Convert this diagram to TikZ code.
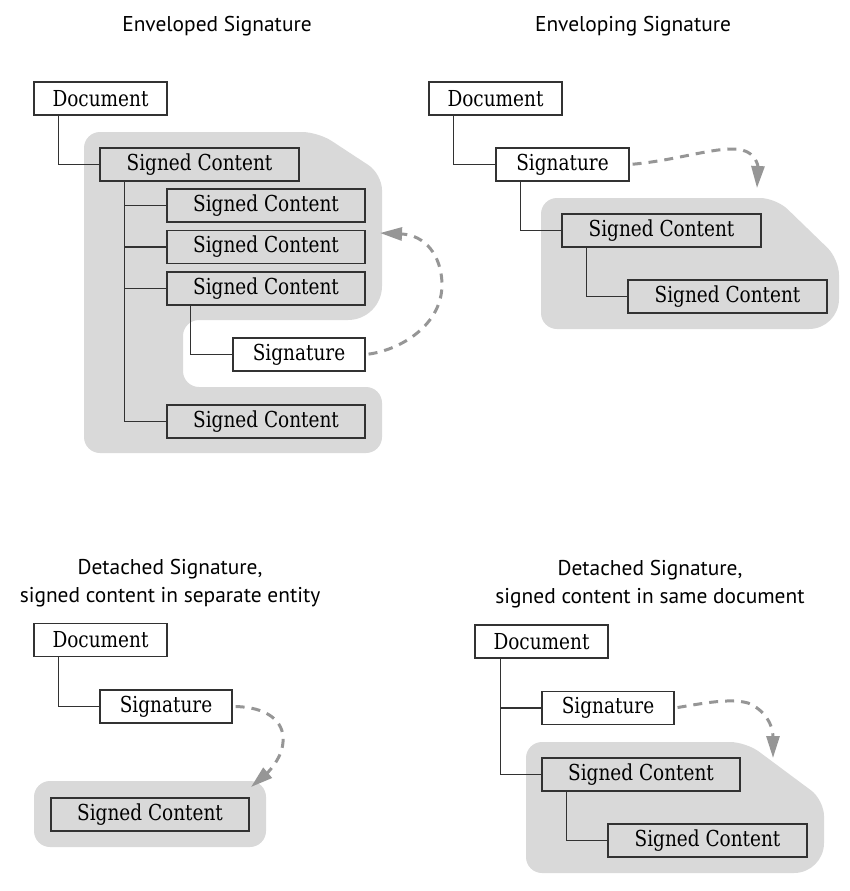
\documentclass[tikz,border=0pt]{standalone}
\usepackage{fontspec}
\setmainfont{DejaVu Serif}[FakeStretch=0.84]
\newfontfamily\titlefont{PT Sans}
\usetikzlibrary{arrows.meta}
\definecolor{regiongray}{RGB}{217,217,217}
\definecolor{arrowgray}{RGB}{150,150,150}
\definecolor{linegray}{RGB}{50,50,50}
\begin{document}
\begin{tikzpicture}[x=1pt,y=-1pt,
  box/.style={draw=linegray,line width=1.2pt,minimum height=33pt,inner sep=0pt,
    font=\fontsize{22}{24}\selectfont},
  wbox/.style={box,fill=white},
  conn/.style={draw=linegray,line width=1.1pt},
  region/.style={fill=regiongray,rounded corners=16pt},
  sigarrow/.style={draw=arrowgray,line width=3pt,dash pattern=on 9pt off 7pt,
    shorten <=3pt,-{Triangle[length=22pt,width=13pt]}},
  ttl/.style={font=\titlefont\fontsize{21.4}{28}\selectfont,align=center}]
\useasboundingbox (0,0) rectangle (850,891);

% ---------- titles
\node[ttl] (t1) at (217,26) {Enveloped Signature};
\node[ttl] (t2) at (633,26) {Enveloping Signature};
\node[ttl] (t3) at (170,583) {Detached Signature,\\signed content in separate entity};
\node[ttl] (t4) at (650,584) {Detached Signature,\\signed content in same document};

% ---------- gray regions
\fill[region] (84,300) -- (84,132) -- (318,132) -- (382,174)
  [rounded corners=34pt] -- (382,320) [rounded corners=16pt] -- (183,320) -- (183,387)
  -- (382,387) -- (382,453) -- (84,453) -- cycle;
\fill[region] (541,260) -- (541,198) -- (776,198) -- (839,259)
  [rounded corners=30pt] -- (839,329) [rounded corners=16pt] -- (541,329) -- cycle;
\fill[region] (34,781) rectangle (266,847);
\fill[region] (526,800) -- (526,742) -- (746,742) -- (824,800)
  [rounded corners=30pt] -- (824,873) [rounded corners=16pt] -- (526,873) -- cycle;

% ---------- enveloped signature
\node[wbox,minimum width=133pt] (doc1) at (100.5,98.5) {Document};
\node[box,minimum width=199pt] (sc1) at (199.5,164.5) {Signed Content};
\node[box,minimum width=198pt] (sc2) at (266,205.5) {Signed Content};
\node[box,minimum width=198pt] (sc3) at (266,247) {Signed Content};
\node[box,minimum width=198pt] (sc4) at (266,288.5) {Signed Content};
\node[wbox,minimum width=132pt] (sig1) at (299,354.5) {Signature};
\node[box,minimum width=198pt] (sc5) at (266,421.5) {Signed Content};
\draw[conn] (doc1.south west) ++(25,0) |- (sc1.west);
\coordinate (tr1) at ([xshift=25pt]sc1.south west);
\draw[conn] (tr1) |- (sc5.west);
\draw[conn] (tr1) |- (sc2.west);
\draw[conn] (tr1) |- (sc3.west);
\draw[conn] (tr1) |- (sc4.west);
\draw[conn] (sc4.south west) ++(24,0) |- (sig1.west);
\coordinate (tip1) at (380,233);
\draw[sigarrow] (sig1.east) .. controls (400,350) and (443,325) .. (442,283)
  .. controls (441,255) and (425,235) .. (tip1);

% ---------- enveloping signature
\node[wbox,minimum width=133pt] (doc2) at (495.5,98.5) {Document};
\node[wbox,minimum width=133pt] (sig2) at (562.5,164.5) {Signature};
\node[box,minimum width=199pt] (sc6) at (661.5,230.5) {Signed Content};
\node[box,minimum width=199pt] (sc7) at (727.5,296.5) {Signed Content};
\draw[conn] (doc2.south west) ++(25,0) |- (sig2.west);
\draw[conn] (sig2.south west) ++(25,0) |- (sc6.west);
\draw[conn] (sc6.south west) ++(25,0) |- (sc7.west);
\coordinate (tip2) at (757,188);
\draw[sigarrow] (sig2.east) .. controls (680,160) and (720,145) .. (742,150)
  .. controls (755,153) and (758,165) .. (tip2);

% ---------- detached, separate entity
\node[wbox,minimum width=133pt] (doc3) at (100.5,640) {Document};
\node[wbox,minimum width=132pt] (sig3) at (166,706.5) {Signature};
\node[box,minimum width=198pt] (sc8) at (150,814.5) {Signed Content};
\draw[conn] (doc3.south west) ++(25,0) |- (sig3.west);
\coordinate (tip3) at (251,787);
\draw[sigarrow] (sig3.east) .. controls (265,707) and (285,720) .. (283,742)
  .. controls (282,760) and (265,775) .. (tip3);

% ---------- detached, same document
\node[wbox,minimum width=133pt] (doc4) at (541.5,641.5) {Document};
\node[wbox,minimum width=132pt] (sig4) at (608,708) {Signature};
\node[box,minimum width=198pt] (sc9) at (641,774.5) {Signed Content};
\node[box,minimum width=199pt] (sc10) at (707.5,840.5) {Signed Content};
\coordinate (tr4) at ([xshift=26pt]doc4.south west);
\draw[conn] (tr4) |- (sc9.west);
\draw[conn] (tr4) |- (sig4.west);
\draw[conn] (sc9.south west) ++(25,0) |- (sc10.west);
\coordinate (tip4) at (773,758);
\draw[sigarrow] (sig4.east) .. controls (705,703) and (730,698) .. (748,703)
  .. controls (765,710) and (773,725) .. (tip4);
\end{tikzpicture}
\end{document}
